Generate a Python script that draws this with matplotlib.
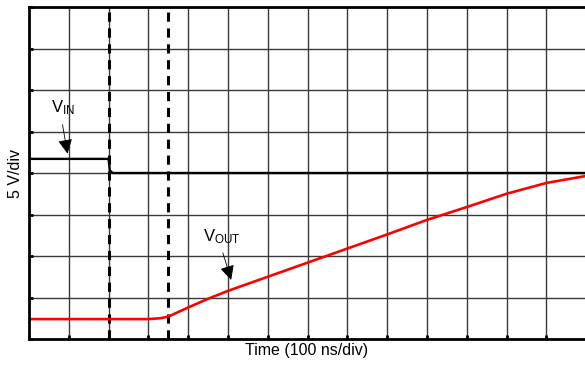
import matplotlib
matplotlib.use("Agg")
import matplotlib.pyplot as plt

plt.rcParams['font.family'] = ['Liberation Sans', 'DejaVu Sans']
plt.rcParams['mathtext.fontset'] = 'custom'
plt.rcParams['mathtext.rm'] = 'Liberation Sans'
plt.rcParams['mathtext.it'] = 'Liberation Sans'

# time in divisions (100 ns/div), voltage in divisions (5 V/div)
t_in = [0.0, 2.0, 2.03, 2.1, 14.0]
v_in = [4.34, 4.34, 4.06, 4.0, 4.0]

t_out = [0.0, 3.0, 3.3, 3.5, 4.0, 4.5, 5.0, 6.0, 7.0, 8.0, 9.0, 10.0, 11.0, 12.0, 13.0, 14.0]
v_out = [0.48, 0.48, 0.5, 0.54, 0.76, 0.97, 1.16, 1.5, 1.84, 2.18, 2.52, 2.87, 3.18, 3.5, 3.76, 3.93]

markers_t = [2.0, 3.5]

fig = plt.figure(figsize=(5.85, 3.66), dpi=100)
ax = fig.add_axes([29 / 585, 27 / 366, 556 / 585, 332 / 366])

ax.set_xlim(0, 556 / 39.8)
ax.set_ylim(0, 8)
ax.set_xticks(range(0, 14))
ax.set_yticks(range(0, 9))
ax.grid(True, color='#3a3a3a', linewidth=1.0)
ax.tick_params(direction='in', length=3, width=2, labelbottom=False, labelleft=False)
for side in ['left', 'bottom', 'top']:
    ax.spines[side].set_linewidth(2)
ax.spines['right'].set_visible(False)

for t in markers_t:
    ax.axvline(t, color='black', linewidth=2.2, dashes=(3, 2.2))

ax.plot(t_in, v_in, color='black', linewidth=1.7)
ax.plot(t_out, v_out, color='#ff0000', linewidth=1.9)

ax.text(0.85, 5.57, r'$\mathrm{V_{IN}}$', fontsize=12, ha='center', va='center')
ax.annotate('', xy=(0.98, 4.4), xytext=(0.83, 5.23),
            arrowprops=dict(arrowstyle='-|>', color='black', lw=0.6, mutation_scale=22))
ax.text(4.85, 2.46, r'$\mathrm{V_{OUT}}$', fontsize=12, ha='center', va='center')
ax.annotate('', xy=(5.1, 1.36), xytext=(4.85, 2.14),
            arrowprops=dict(arrowstyle='-|>', color='black', lw=0.6, mutation_scale=22))

ax.set_xlabel('Time (100 ns/div)', fontsize=11.5, labelpad=3)
ax.set_ylabel('5 V/div', fontsize=11.5, labelpad=4)

fig.savefig('out.png', dpi=100)
